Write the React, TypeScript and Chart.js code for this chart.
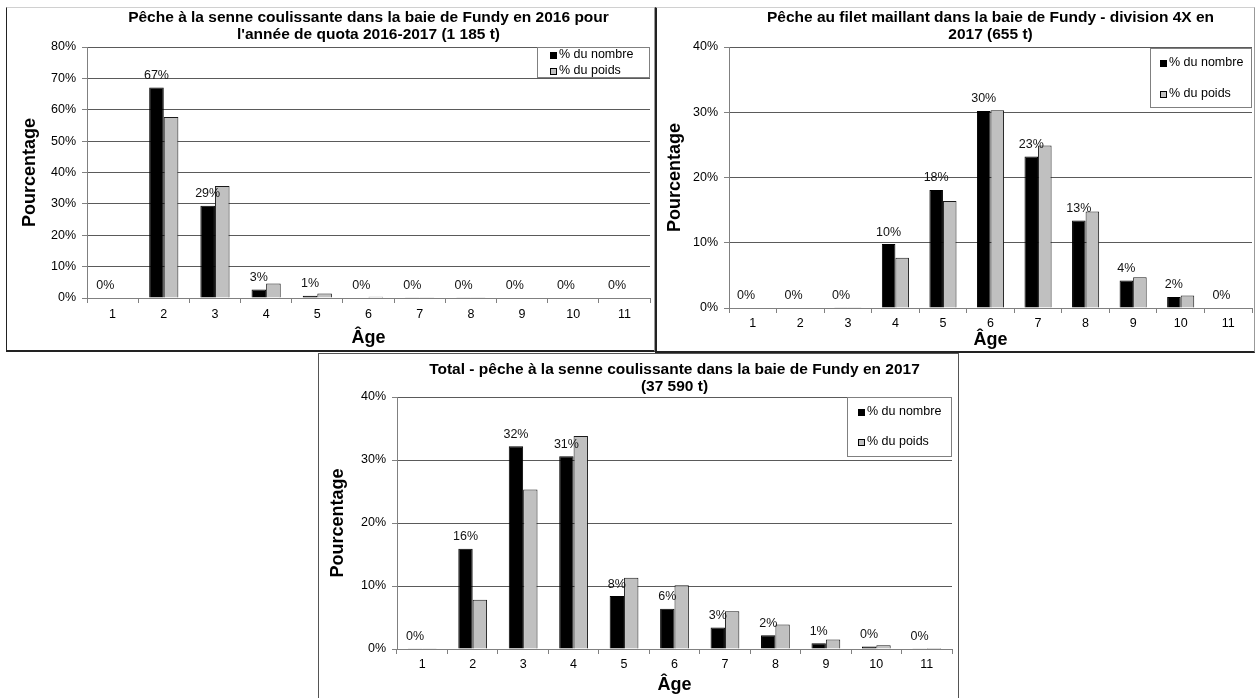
import React, { useEffect, useRef } from "react";
import { Chart, registerables } from "chart.js";

Chart.register(...registerables);

const FONT = "'Liberation Sans', Arial, sans-serif";

// ---------- data ----------
const AGES = ["1", "2", "3", "4", "5", "6", "7", "8", "9", "10", "11"];
const SERIES_NOMBRE = "% du nombre";
const SERIES_POIDS = "% du poids";
const Y_AXIS_TITLE = "Pourcentage";
const X_AXIS_TITLE = "Âge";
const Y_STEP = 10;

const TITLE_1 = [
  "Pêche à la senne coulissante dans la baie de Fundy en 2016 pour",
  "l'année de quota 2016-2017 (1 185 t)",
];
const NOMBRE_1 = [0, 67.1, 29.4, 2.7, 0.7, 0.15, 0.1, 0.1, 0, 0, 0];
const POIDS_1 = [0, 57.7, 35.7, 4.6, 1.4, 0.4, 0.1, 0.1, 0, 0, 0];
const Y_MAX_1 = 80;

const TITLE_2 = [
  "Pêche au filet maillant dans la baie de Fundy - division 4X en",
  "2017 (655 t)",
];
const NOMBRE_2 = [0, 0, 0.1, 9.8, 18.1, 30.2, 23.2, 13.4, 4.2, 1.7, 0];
const POIDS_2 = [0, 0, 0.1, 7.7, 16.4, 30.3, 24.9, 14.8, 4.7, 1.9, 0];
const Y_MAX_2 = 40;

const TITLE_3 = [
  "Total - pêche à la senne coulissante dans la baie de Fundy en 2017",
  "(37 590 t)",
];
const NOMBRE_3 = [0.1, 15.9, 32.2, 30.6, 8.4, 6.4, 3.4, 2.2, 0.9, 0.4, 0.1];
const POIDS_3 = [0.1, 7.8, 25.3, 33.8, 11.3, 10.1, 6.0, 3.9, 1.5, 0.6, 0.15];
const Y_MAX_3 = 40;

// ---------- layout (styles only) ----------
type Layout = {
  left: number; top: number; w: number; h: number;
  yWidth: number; xHeight: number; padRight: number;
  titleTop: number; titleBottom: number;
  yTitlePad: number; xTitlePad: number; xTickPad: number;
  legend: { width: number; height: number; offsetTop: number; rows: number[]; markerX: number; textX: number };
};

const LAYOUT_1: Layout = {
  left: 7, top: 8, w: 646, h: 341,
  yWidth: 80, xHeight: 51, padRight: 3,
  titleTop: 1.5, titleBottom: 3.5,
  yTitlePad: 12, xTitlePad: 0, xTickPad: 4.5,
  legend: { width: 113, height: 31, offsetTop: 0, rows: [8, 24], markerX: 13, textX: 22 },
};
const LAYOUT_2: Layout = {
  left: 657, top: 8, w: 597, h: 343,
  yWidth: 72, xHeight: 43, padRight: 2,
  titleTop: 1.5, titleBottom: 3.5,
  yTitlePad: 7, xTitlePad: 0, xTickPad: 3.5,
  legend: { width: 102, height: 60, offsetTop: 1, rows: [15, 46], markerX: 10, textX: 19 },
};
const LAYOUT_3: Layout = {
  left: 319, top: 354, w: 638, h: 344,
  yWidth: 78, xHeight: 49, padRight: 5,
  titleTop: 7.5, titleBottom: 1.5,
  yTitlePad: 8, xTitlePad: 2, xTickPad: 3.5,
  legend: { width: 105, height: 60, offsetTop: 0, rows: [15, 45], markerX: 11, textX: 20 },
};

// ---------- plugins ----------
const boxLegend = {
  id: "boxLegend",
  afterDraw(chart: any, _args: any, opts: any) {
    const { ctx, chartArea } = chart;
    const w = opts.width;
    const h = opts.height;
    const x = Math.round(chartArea.right - w);
    const y = Math.round(chartArea.top + opts.offsetTop);
    ctx.save();
    ctx.fillStyle = "#ffffff";
    ctx.fillRect(x, y, w, h);
    ctx.strokeStyle = "#808080";
    ctx.lineWidth = 1;
    ctx.strokeRect(x + 0.5, y + 0.5, w - 1, h - 1);
    chart.data.datasets.forEach((ds: any, i: number) => {
      const cy = y + opts.rows[i];
      const mx = x + opts.markerX;
      ctx.fillStyle = ds.backgroundColor;
      ctx.fillRect(mx, Math.round(cy - 3.5), 7, 7);
      ctx.strokeStyle = "#000";
      ctx.strokeRect(mx + 0.5, Math.round(cy - 3.5) + 0.5, 6, 6);
      ctx.fillStyle = "#000";
      ctx.font = `12.5px ${FONT}`;
      ctx.textBaseline = "middle";
      ctx.textAlign = "left";
      ctx.fillText(ds.label, x + opts.textX, cy);
    });
    ctx.restore();
  },
};

const barLabels = {
  id: "barLabels",
  afterDatasetsDraw(chart: any) {
    const { ctx } = chart;
    const meta = chart.getDatasetMeta(0);
    const yScale = chart.scales.y;
    const values = chart.data.datasets[0].data as number[];
    ctx.save();
    ctx.font = `12.5px ${FONT}`;
    ctx.fillStyle = "#111";
    ctx.textAlign = "center";
    ctx.textBaseline = "middle";
    meta.data.forEach((el: any, i: number) => {
      const v = values[i];
      ctx.fillText(Math.round(v) + "%", el.x, yScale.getPixelForValue(v) - 12);
    });
    ctx.restore();
  },
};

function Panel(props: { title: string[]; nombre: number[]; poids: number[]; yMax: number; layout: Layout }) {
  const ref = useRef<HTMLCanvasElement>(null);
  const { title, nombre, poids, yMax, layout: L } = props;
  useEffect(() => {
    const bw = (c: any) => (c.raw === 0 ? 0 : 1);
    const chart = new Chart(ref.current as HTMLCanvasElement, {
      type: "bar",
      data: {
        labels: AGES,
        datasets: [
          {
            label: SERIES_NOMBRE,
            data: nombre,
            backgroundColor: "#000000",
            borderColor: "#000000",
            borderWidth: bw as any,
            categoryPercentage: 0.57,
            barPercentage: 1,
          },
          {
            label: SERIES_POIDS,
            data: poids,
            backgroundColor: "#c0c0c0",
            borderColor: "#1a1a1a",
            borderWidth: bw as any,
            categoryPercentage: 0.57,
            barPercentage: 1,
          },
        ],
      },
      options: {
        responsive: false,
        animation: false,
        devicePixelRatio: 1,
        events: [],
        layout: { padding: { left: 0, right: L.padRight, top: 0, bottom: 0 } },
        plugins: {
          legend: { display: false },
          tooltip: { enabled: false },
          title: {
            display: true,
            text: title,
            color: "#000",
            fullSize: false,
            font: { family: FONT, size: 15.5, weight: "bold", lineHeight: "17px" as any },
            padding: { top: L.titleTop, bottom: L.titleBottom },
          },
          boxLegend: L.legend,
        } as any,
        scales: {
          x: {
            type: "category",
            offset: true,
            grid: {
              display: true,
              drawOnChartArea: false,
              drawTicks: true,
              tickLength: 5,
              offset: true,
              color: "#808080",
              tickColor: "#808080",
            },
            border: { display: true, color: "#808080" },
            ticks: {
              color: "#000",
              font: { family: FONT, size: 12.5 },
              padding: L.xTickPad,
              maxRotation: 0,
              autoSkip: false,
            },
            title: {
              display: true,
              text: X_AXIS_TITLE,
              color: "#000",
              font: { family: FONT, size: 18, weight: "bold", lineHeight: 1.2 },
              padding: { top: 0, bottom: L.xTitlePad },
            },
            afterFit: (s: any) => {
              s.height = L.xHeight;
            },
          },
          y: {
            min: 0,
            max: yMax,
            ticks: {
              stepSize: Y_STEP,
              callback: (v: any) => v + "%",
              color: "#000",
              font: { family: FONT, size: 12.5 },
              padding: 6,
            },
            grid: { color: "#5a5a5a", tickColor: "#808080", tickLength: 5, drawTicks: true },
            border: { display: true, color: "#808080" },
            title: {
              display: true,
              text: Y_AXIS_TITLE,
              color: "#000",
              font: { family: FONT, size: 18, weight: "bold", lineHeight: 1.2 },
              padding: { top: L.yTitlePad, bottom: 0 },
            },
            afterFit: (s: any) => {
              s.width = L.yWidth;
            },
          },
        },
      },
      plugins: [barLabels, boxLegend],
    });
    return () => chart.destroy();
  }, []);
  return (
    <canvas
      ref={ref}
      width={L.w}
      height={L.h}
      style={{ position: "absolute", left: L.left, top: L.top, width: L.w, height: L.h }}
    />
  );
}

export default function App() {
  return (
    <div
      style={{
        position: "absolute",
        left: 0,
        top: 0,
        width: 1255,
        height: 698,
        overflow: "hidden",
        background: "#fff",
      }}
    >
      <Panel title={TITLE_1} nombre={NOMBRE_1} poids={POIDS_1} yMax={Y_MAX_1} layout={LAYOUT_1} />
      <Panel title={TITLE_2} nombre={NOMBRE_2} poids={POIDS_2} yMax={Y_MAX_2} layout={LAYOUT_2} />
      <Panel title={TITLE_3} nombre={NOMBRE_3} poids={POIDS_3} yMax={Y_MAX_3} layout={LAYOUT_3} />
      <div
        style={{
          position: "absolute", left: 6, top: 7, width: 649, height: 345, boxSizing: "border-box",
          borderTop: "1px solid #d0d0d0", borderLeft: "1px solid #222", borderBottom: "2px solid #222",
          borderRight: "1px solid #999", pointerEvents: "none",
        }}
      />
      <div
        style={{
          position: "absolute", left: 655, top: 7, width: 600, height: 346, boxSizing: "border-box",
          borderTop: "1px solid #d0d0d0", borderLeft: "2px solid #222", borderBottom: "2px solid #222",
          borderRight: "1px solid #999", pointerEvents: "none",
        }}
      />
      <div
        style={{
          position: "absolute", left: 318, top: 353, width: 641, height: 360, boxSizing: "border-box",
          border: "1px solid #555", pointerEvents: "none",
        }}
      />
    </div>
  );
}
